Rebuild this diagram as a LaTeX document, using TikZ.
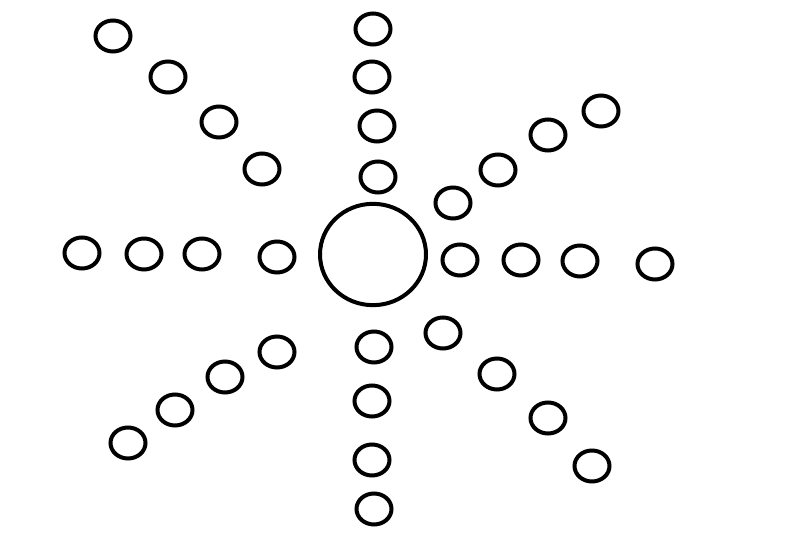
\documentclass[tikz,border=0pt]{standalone}
\usetikzlibrary{shapes.geometric}
\begin{document}
\begin{tikzpicture}[x=0.75pt,y=-0.75pt,
  dot/.style={draw=black,line width=3pt,ellipse,inner sep=0pt,minimum width=26.25pt,minimum height=23.25pt},
  hub/.style={draw=black,line width=3pt,ellipse,inner sep=0pt,minimum width=79.5pt,minimum height=76pt}]
\useasboundingbox[fill=white] (0,0) rectangle (811,548);
\node[hub] (c) at (373,254.5) {};
% top
\node[dot] (t1) at (373,29) {};
\node[dot] (t2) at (372,77) {};
\node[dot] (t3) at (377,126) {};
\node[dot] (t4) at (378,177) {};
% upper left
\node[dot] (ul1) at (113,36) {};
\node[dot] (ul2) at (168,77) {};
\node[dot] (ul3) at (219,122) {};
\node[dot] (ul4) at (262,169) {};
% left
\node[dot] (l1) at (82,253) {};
\node[dot] (l2) at (144,254) {};
\node[dot] (l3) at (202,254) {};
\node[dot] (l4) at (277,257) {};
% upper right
\node[dot] (ur1) at (601,111) {};
\node[dot] (ur2) at (548,135) {};
\node[dot] (ur3) at (498,170) {};
\node[dot] (ur4) at (453,203) {};
% right
\node[dot] (r1) at (460,260) {};
\node[dot] (r2) at (521,260) {};
\node[dot] (r3) at (580,261) {};
\node[dot] (r4) at (655,264) {};
% lower right
\node[dot] (lr1) at (443,333) {};
\node[dot] (lr2) at (497,374) {};
\node[dot] (lr3) at (548,418) {};
\node[dot] (lr4) at (592,466) {};
% bottom
\node[dot] (b1) at (374,347) {};
\node[dot] (b2) at (372,401) {};
\node[dot] (b3) at (372,460) {};
\node[dot] (b4) at (374,509) {};
% lower left
\node[dot] (ll1) at (277,352) {};
\node[dot] (ll2) at (225,377) {};
\node[dot] (ll3) at (175,410) {};
\node[dot] (ll4) at (128,443) {};
\end{tikzpicture}
\end{document}
